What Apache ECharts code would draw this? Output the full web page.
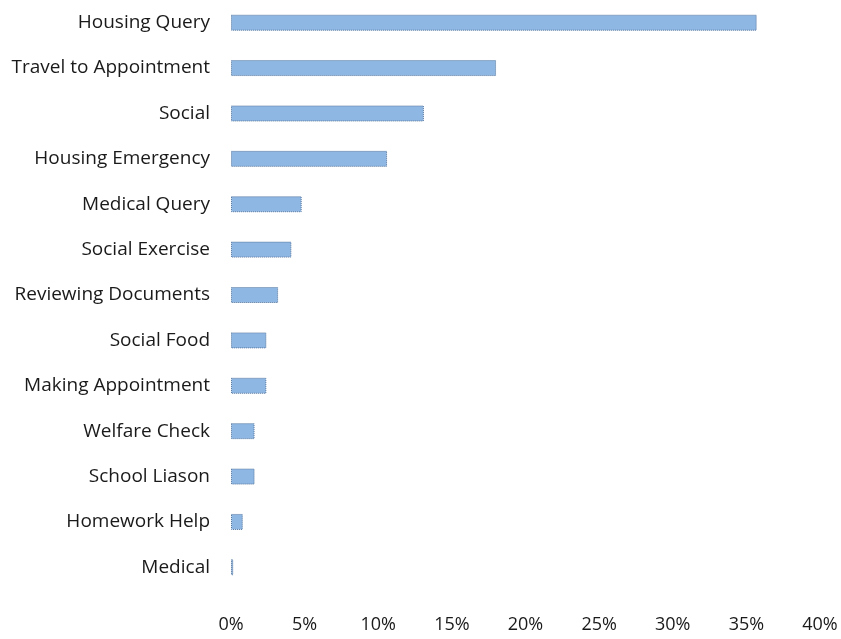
<!DOCTYPE html>
<html>
<head>
<meta charset="utf-8">
<script src="https://cdn.jsdelivr.net/npm/echarts@6/dist/echarts.min.js"></script>
<style>
  html, body { margin: 0; padding: 0; background: #fff; }
  #chart { width: 841px; height: 639px; }
</style>
</head>
<body>
<div id="chart"></div>
<script>
// categories, top to bottom as drawn
const categories = [
  'Housing Query', 'Travel to Appointment', 'Social', 'Housing Emergency',
  'Medical Query', 'Social Exercise', 'Reviewing Documents', 'Social Food',
  'Making Appointment', 'Welfare Check', 'School Liason', 'Homework Help', 'Medical'
]
// share of requests, %
const shares = [35.7, 18.0, 13.1, 10.6, 4.8, 4.1, 3.2, 2.4, 2.4, 1.6, 1.6, 0.8, 0.15]
const xTicks = [0, 5, 10, 15, 20, 25, 30, 35, 40]

const myChart = echarts.init(document.getElementById('chart'))

const option = {
  animation: false,
  grid: {
    left: 231,
    right: 21,
    top: -3,
    bottom: 49
  },
  xAxis: {
    type: 'value',
    min: xTicks[0],
    max: xTicks[xTicks.length - 1],
    interval: 5,
    axisLine: { show: false },
    axisTick: { show: false },
    splitLine: { show: false },
    axisLabel: {
      margin: 26,
      color: '#1a1a1a',
      fontFamily: 'Open Sans',
      fontSize: 18,
      formatter: v => v + '%'
    }
  },
  yAxis: {
    type: 'category',
    inverse: true,
    data: categories,
    axisLine: { show: false },
    axisTick: { show: false },
    axisLabel: {
      margin: 21,
      color: '#1a1a1a',
      fontFamily: 'Open Sans',
      fontSize: 19
    }
  },
  series: [{
    type: 'bar',
    data: shares,
    barWidth: 16,
    itemStyle: {
      color: '#8fb7e3',
      borderColor: '#55759c',
      borderWidth: 1,
      borderType: 'dotted'
    }
  }]
}

myChart.setOption(option)
</script>
</body>
</html>
